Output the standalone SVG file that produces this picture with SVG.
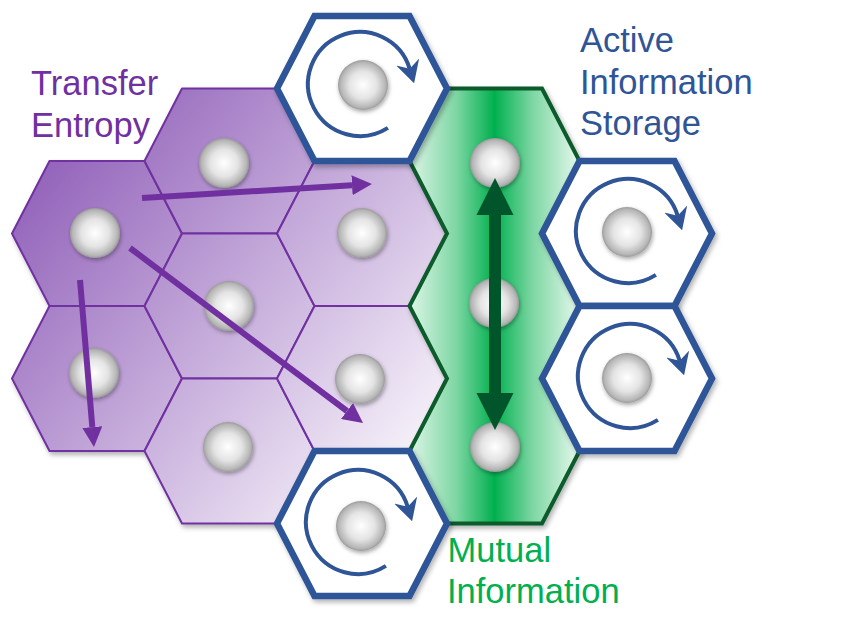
<svg xmlns="http://www.w3.org/2000/svg" width="853" height="634" viewBox="0 0 853 634">
<style>
.pur{stroke:#7030a0;stroke-width:2;stroke-linejoin:round;fill:url(#pg)}
.blu{stroke:#2f5597;stroke-width:6.5;stroke-linejoin:miter;fill:#ffffff}
.grn{stroke:#0a5a2c;stroke-width:4;stroke-linejoin:miter;fill:url(#gg)}
.ball{fill:url(#bg);filter:url(#bs)}
.parr{stroke:#7030a0;stroke-width:6;fill:none;marker-end:url(#ph)}
.rot{stroke:#2f5597;stroke-width:4;fill:none;marker-end:url(#rh)}
.t{font-family:"Liberation Sans",Arial,sans-serif;font-size:34.5px}
</style>
<defs>
<linearGradient id="pg" gradientUnits="userSpaceOnUse" x1="30" y1="170" x2="400" y2="480">
<stop offset="0" stop-color="#9262ba"/>
<stop offset="1" stop-color="#f7f3fa"/>
</linearGradient>
<linearGradient id="gg" gradientUnits="userSpaceOnUse" x1="409" y1="0" x2="580" y2="0">
<stop offset="0" stop-color="#def6e8"/>
<stop offset="0.28" stop-color="#7cd6a2"/>
<stop offset="0.5" stop-color="#00b050"/>
<stop offset="0.72" stop-color="#7cd6a2"/>
<stop offset="1" stop-color="#e8f9ef"/>
</linearGradient>
<radialGradient id="bg" cx="0.5" cy="0.5" r="0.5">
<stop offset="0" stop-color="#ffffff"/>
<stop offset="0.55" stop-color="#e4e4e4"/>
<stop offset="0.9" stop-color="#b6b6b6"/>
<stop offset="1" stop-color="#9a9a9a"/>
</radialGradient>
<filter id="bs" x="-30%" y="-30%" width="160%" height="160%">
<feDropShadow dx="1" dy="2" stdDeviation="2" flood-color="#000" flood-opacity="0.35"/>
</filter>
<filter id="hs" x="-10%" y="-10%" width="125%" height="125%">
<feDropShadow dx="2" dy="3" stdDeviation="2.5" flood-color="#000" flood-opacity="0.3"/>
</filter>
<marker id="ph" markerUnits="userSpaceOnUse" viewBox="0 0 20 20" markerWidth="20" markerHeight="20" refX="0" refY="10" orient="auto">
<path d="M0,0 L20,10 L0,20 Z" fill="#7030a0"/>
</marker>
<marker id="rh" markerUnits="userSpaceOnUse" viewBox="0 -12 22 24" markerWidth="22" markerHeight="24" refX="7" refY="0" orient="auto">
<path d="M22,0 L0,-12 L7,0 L0,12 Z" fill="#2f5597"/>
</marker>
</defs>

<g id="purple-nodes" filter="url(#hs)">
<g id="p1"><polygon class="pur" points="12,233.5 49.5,161 144.5,161 182,233.5 144.5,306 49.5,306"/></g>
<g id="p2"><polygon class="pur" points="12,378.5 49.5,306 144.5,306 182,378.5 144.5,451 49.5,451"/></g>
<g id="p3"><polygon class="pur" points="144.5,161 182,88.5 277,88.5 314.5,161 277,233.5 182,233.5"/></g>
<g id="p4"><polygon class="pur" points="144.5,306 182,233.5 277,233.5 314.5,306 277,378.5 182,378.5"/></g>
<g id="p5"><polygon class="pur" points="144.5,451 182,378.5 277,378.5 314.5,451 277,523.5 182,523.5"/></g>
<g id="p6"><polygon class="pur" points="277,233.5 314.5,161 409.5,161 447,233.5 409.5,306 314.5,306"/></g>
<g id="p7"><polygon class="pur" points="277,378.5 314.5,306 409.5,306 447,378.5 409.5,451 314.5,451"/></g>
</g>
<g id="purple-balls">
<circle class="ball" cx="95" cy="233" r="25"/>
<circle class="ball" cx="94" cy="373" r="25"/>
<circle class="ball" cx="224" cy="163" r="25"/>
<circle class="ball" cx="229" cy="306" r="25"/>
<circle class="ball" cx="228" cy="447" r="25"/>
<circle class="ball" cx="362" cy="233" r="25"/>
<circle class="ball" cx="360" cy="379" r="25"/>
</g>

<g id="green-node">
<polygon class="grn" filter="url(#hs)" points="447,88.5 542,88.5 579.5,161 542,233.5 579.5,306 542,378.5 579.5,451 542,523.5 447,523.5 409.5,451 447,378.5 409.5,306 447,233.5 409.5,161"/>
<circle class="ball" cx="495" cy="163" r="25"/>
<circle class="ball" cx="494" cy="303" r="25"/>
<circle class="ball" cx="495" cy="447" r="25"/>
</g>

<g id="b1"><polygon class="blu" filter="url(#hs)" points="277,88.5 314.5,16 409.5,16 447,88.5 409.5,161 314.5,161"/><circle class="ball" cx="363" cy="85" r="25"/></g>
<g id="b2"><polygon class="blu" filter="url(#hs)" points="277,523.5 314.5,451 409.5,451 447,523.5 409.5,596 314.5,596"/><circle class="ball" cx="361" cy="526" r="25"/></g>
<g id="b3"><polygon class="blu" filter="url(#hs)" points="542,233.5 579.5,161 674.5,161 712,233.5 674.5,306 579.5,306"/><circle class="ball" cx="627" cy="232" r="25"/></g>
<g id="b4"><polygon class="blu" filter="url(#hs)" points="542,378.5 579.5,306 674.5,306 712,378.5 674.5,451 579.5,451"/><circle class="ball" cx="627" cy="378" r="25"/></g>

<g id="connectors">
<line class="parr" x1="142" y1="198" x2="352" y2="185.2"/>
<line class="parr" x1="130" y1="248" x2="347" y2="411"/>
<line class="parr" x1="80" y1="280" x2="92.3" y2="427.1"/>
<g fill="#00552a">
<rect x="489" y="213" width="12" height="182"/>
<polygon points="495,178 476.5,215 513.5,215"/>
<polygon points="495,430 476.5,393 513.5,393"/>
</g>
<path class="rot" transform="translate(360,84)" d="M27.9,43.9 A52,52 0 1 1 49.7,-15.2"/>
<path class="rot" transform="translate(358,522)" d="M27.9,43.9 A52,52 0 1 1 49.7,-15.2"/>
<path class="rot" transform="translate(628,231)" d="M27.9,43.9 A52,52 0 1 1 49.7,-15.2"/>
<path class="rot" transform="translate(630,376)" d="M27.9,43.9 A52,52 0 1 1 49.7,-15.2"/>
</g>

<g id="labels">
<text class="t" fill="#7030a0" x="31" y="95">Transfer</text>
<text class="t" fill="#7030a0" x="31" y="137">Entropy</text>
<text class="t" fill="#2f5597" x="580" y="52">Active</text>
<text class="t" fill="#2f5597" x="580" y="94">Information</text>
<text class="t" fill="#2f5597" x="580" y="135">Storage</text>
<text class="t" fill="#00b050" x="447.5" y="562">Mutual</text>
<text class="t" fill="#00b050" x="447" y="603">Information</text>
</g>
</svg>
